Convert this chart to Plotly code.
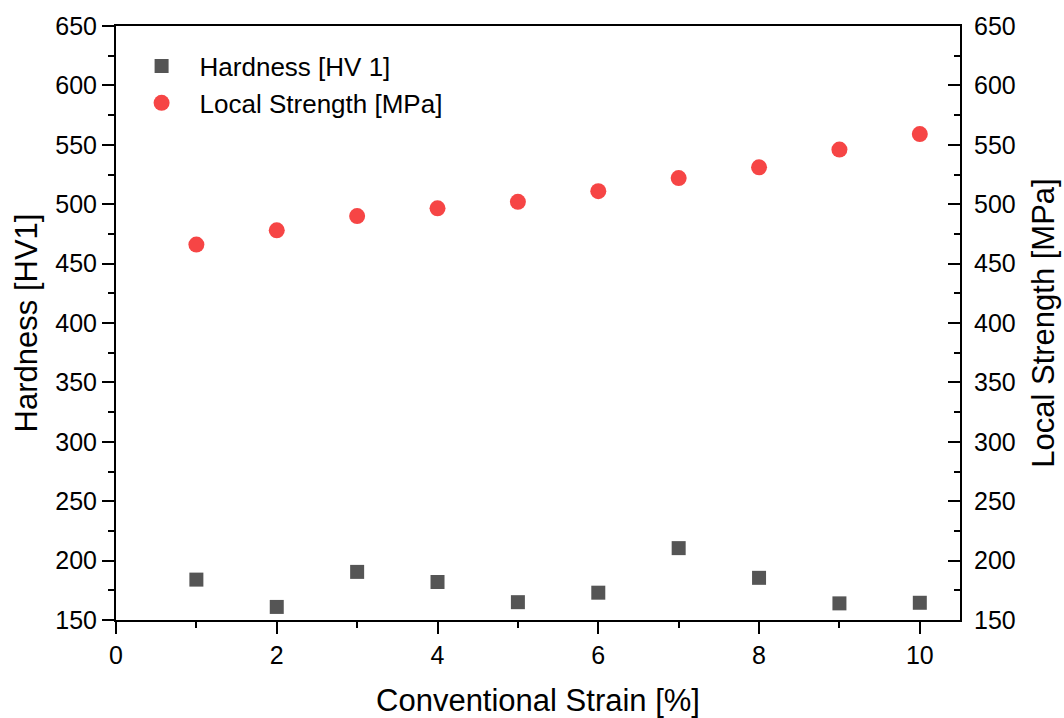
import plotly.graph_objects as go

strain = [1, 2, 3, 4, 5, 6, 7, 8, 9, 10]
hardness = [184, 161, 190.5, 182, 165, 173, 210.5, 185.5, 164, 164.5]
strength = [466, 478, 490, 496.5, 502, 511, 522, 531, 546, 559]

FONT = "Liberation Sans, Arial, sans-serif"

fig = go.Figure()
fig.add_trace(go.Scatter(
    x=strain, y=hardness, mode="markers", name="Hardness [HV 1]",
    marker=dict(symbol="square", size=14, color="#555555"),
))
fig.add_trace(go.Scatter(
    x=strain, y=strength, mode="markers", name="Local Strength [MPa]",
    marker=dict(symbol="circle", size=16, color="#F64545"),
    yaxis="y2",
))

axis_common = dict(
    showgrid=False, zeroline=False, showline=True, linecolor="black", linewidth=2,
    tickfont=dict(family=FONT, size=25, color="black"),
    ticklen=12, tickwidth=2, tickcolor="black", automargin=False,
)
minor_common = dict(ticklen=6, tickwidth=2, tickcolor="black")

fig.update_layout(
    width=1064, height=718,
    margin=dict(l=116, r=104, t=26, b=98),
    plot_bgcolor="white", paper_bgcolor="white",
    font=dict(family=FONT, color="black"),
    showlegend=True,
    legend=dict(
        x=0.009, y=0.972, xanchor="left", yanchor="top",
        font=dict(family=FONT, size=26, color="black"),
        bgcolor="rgba(0,0,0,0)", itemwidth=66, tracegroupgap=0,
    ),
    xaxis=dict(
        **axis_common, range=[0, 10.5], tick0=0, dtick=2, ticks="outside",
        mirror=True,
        minor=dict(dtick=1, tick0=0, ticks="outside", **minor_common),
        title=dict(text="Conventional Strain [%]", font=dict(family=FONT, size=31, color="black"), standoff=24),
    ),
    yaxis=dict(
        **axis_common, range=[150, 650], tick0=150, dtick=50, ticks="outside",
        minor=dict(dtick=25, tick0=150, ticks="outside", **minor_common),
        title=dict(text="Hardness [HV1]", font=dict(family=FONT, size=31, color="black"), standoff=8),
    ),
    yaxis2=dict(
        **axis_common, range=[150, 650], tick0=150, dtick=50, ticks="inside",
        overlaying="y", side="right", ticklabelstandoff=7,
        minor=dict(dtick=25, tick0=150, ticks="inside", **minor_common),
        title=dict(text="Local Strength [MPa]", font=dict(family=FONT, size=31, color="black"), standoff=18),
    ),
)

fig.write_html("out.html")
